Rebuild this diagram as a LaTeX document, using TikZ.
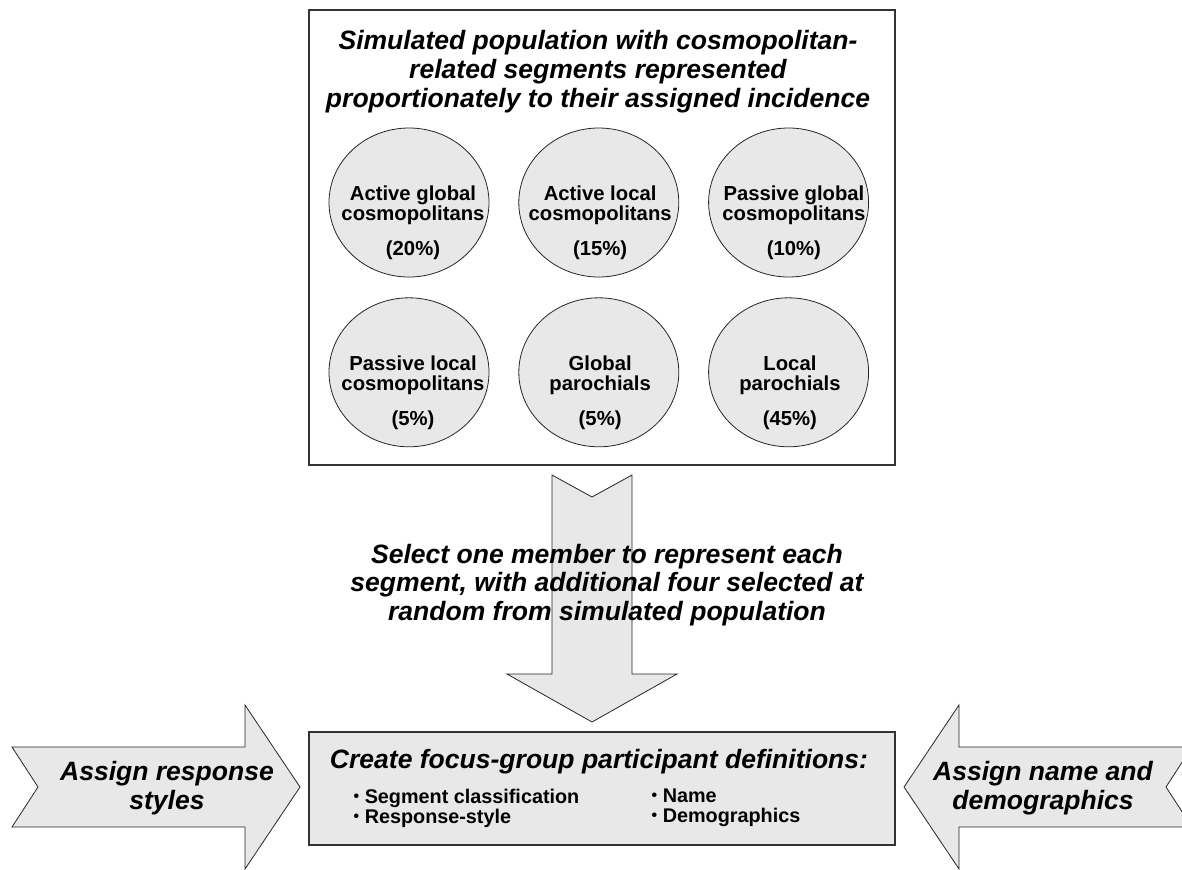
\documentclass[tikz,border=0pt]{standalone}
\usepackage{fontspec}
\setmainfont{Liberation Sans}
\usepackage{tikz}
\usetikzlibrary{positioning}
\usetikzlibrary{shapes}
\definecolor{PanelGray}{RGB}{232,232,232}
\newcommand{\dotitem}{\raisebox{0.1em}{\scalebox{0.8}{•}}~}

\begin{document}
\begin{tikzpicture}[x=0.75pt, y=-0.75pt,
 outbox/.style = {draw=black!80, line width=0.9pt, rectangle, minimum width=439.5pt, minimum height=341.25pt},
 segment/.style = {draw=black!85, line width=0.6pt, ellipse, fill=PanelGray,
                   minimum width=120pt, minimum height=111.75pt, inner sep=0pt},
 segtext/.style = {align=center, font=\fontsize{15.2}{15}\selectfont\bfseries},
 bigtext/.style = {align=center, font=\fontsize{19.9}{21.6}\selectfont\bfseries\itshape},
 defbox/.style = {draw=black!80, line width=0.9pt, rectangle, fill=PanelGray,
                  minimum width=439.5pt, minimum height=84.75pt},
 bullets/.style = {align=left, anchor=west, font=\fontsize{14.85}{15}\selectfont\bfseries},
 blockarrow/.style = {draw=black!85, line width=0.6pt, fill=PanelGray, line join=miter},
                        ]
    \useasboundingbox (0,0) rectangle (1182,869);
    \clip (0,0) rectangle (1182,869);

    \node [outbox] (popbox) at (602,237.5) {};
    \node [bigtext] (popTitle) at (598,71.5) {Simulated population with cosmopolitan-\\related segments represented\\proportionately to their assigned incidence};

    \node [segment] (agc) at (409,202.5) {};
    \node [segment, right=21.75pt of agc] (alc) {};
    \node [segment, right=21.75pt of alc] (pgc) {};
    \node [segment, below=15pt of agc] (plc) {};
    \node [segment, right=21.75pt of plc] (gp) {};
    \node [segment, right=21.75pt of gp] (lp) {};

    \node [segtext] at ([xshift=3pt, yshift=-15pt]agc) {Active global\\cosmopolitans\\[11.25pt](20\%)};
    \node [segtext] at ([xshift=1pt, yshift=-15pt]alc) {Active local\\cosmopolitans\\[11.25pt](15\%)};
    \node [segtext] at ([xshift=4pt, yshift=-15pt]pgc) {Passive global\\cosmopolitans\\[11.25pt](10\%)};
    \node [segtext] at ([xshift=3pt, yshift=-15pt]plc) {Passive local\\cosmopolitans\\[11.25pt](5\%)};
    \node [segtext] at ([xshift=1pt, yshift=-15pt]gp) {Global\\parochials\\[11.25pt](5\%)};
    \node [segtext] at ([xshift=1pt, yshift=-15pt]lp) {Local\\parochials\\[11.25pt](45\%)};

    % block arrows
    \filldraw [blockarrow] (552,475) -- ++(40,22) -- ++(40,-22) -- ++(0,199) -- ++(45,0)
             -- ++(-85,48) -- ++(-85,-48) -- ++(45,0) -- cycle;
    \filldraw [blockarrow] (12,747) -- ++(233,0) -- ++(0,-42) -- ++(55,82)
             -- ++(-55,82) -- ++(0,-42) -- ++(-233,0) -- ++(26,-40) -- cycle;
    \filldraw [blockarrow] (1192,747) -- ++(-233,0) -- ++(0,-42) -- ++(-55,82)
             -- ++(55,82) -- ++(0,-42) -- ++(233,0) -- ++(-26,-40) -- cycle;

    \node [bigtext] (selectText) at (607,585) {Select one member to represent each\\segment, with additional four selected at\\random from simulated population};

    \node [defbox] (defs) at (602,788.5) {};
    \node [bigtext] (defsTitle) at (599,762) {Create focus-group participant definitions:};
    \node [bullets] (leftList) at (349,808) {\dotitem Segment classification\\\dotitem Response-style};
    \node [bullets] (rightList) at (647,808) {\dotitem Name\\\dotitem Demographics};

    \node [bigtext] (styleText) at (167,788) {Assign response\\styles};
    \node [bigtext] (nameText) at (1043,788) {Assign name and\\demographics};
\end{tikzpicture}
\end{document}
